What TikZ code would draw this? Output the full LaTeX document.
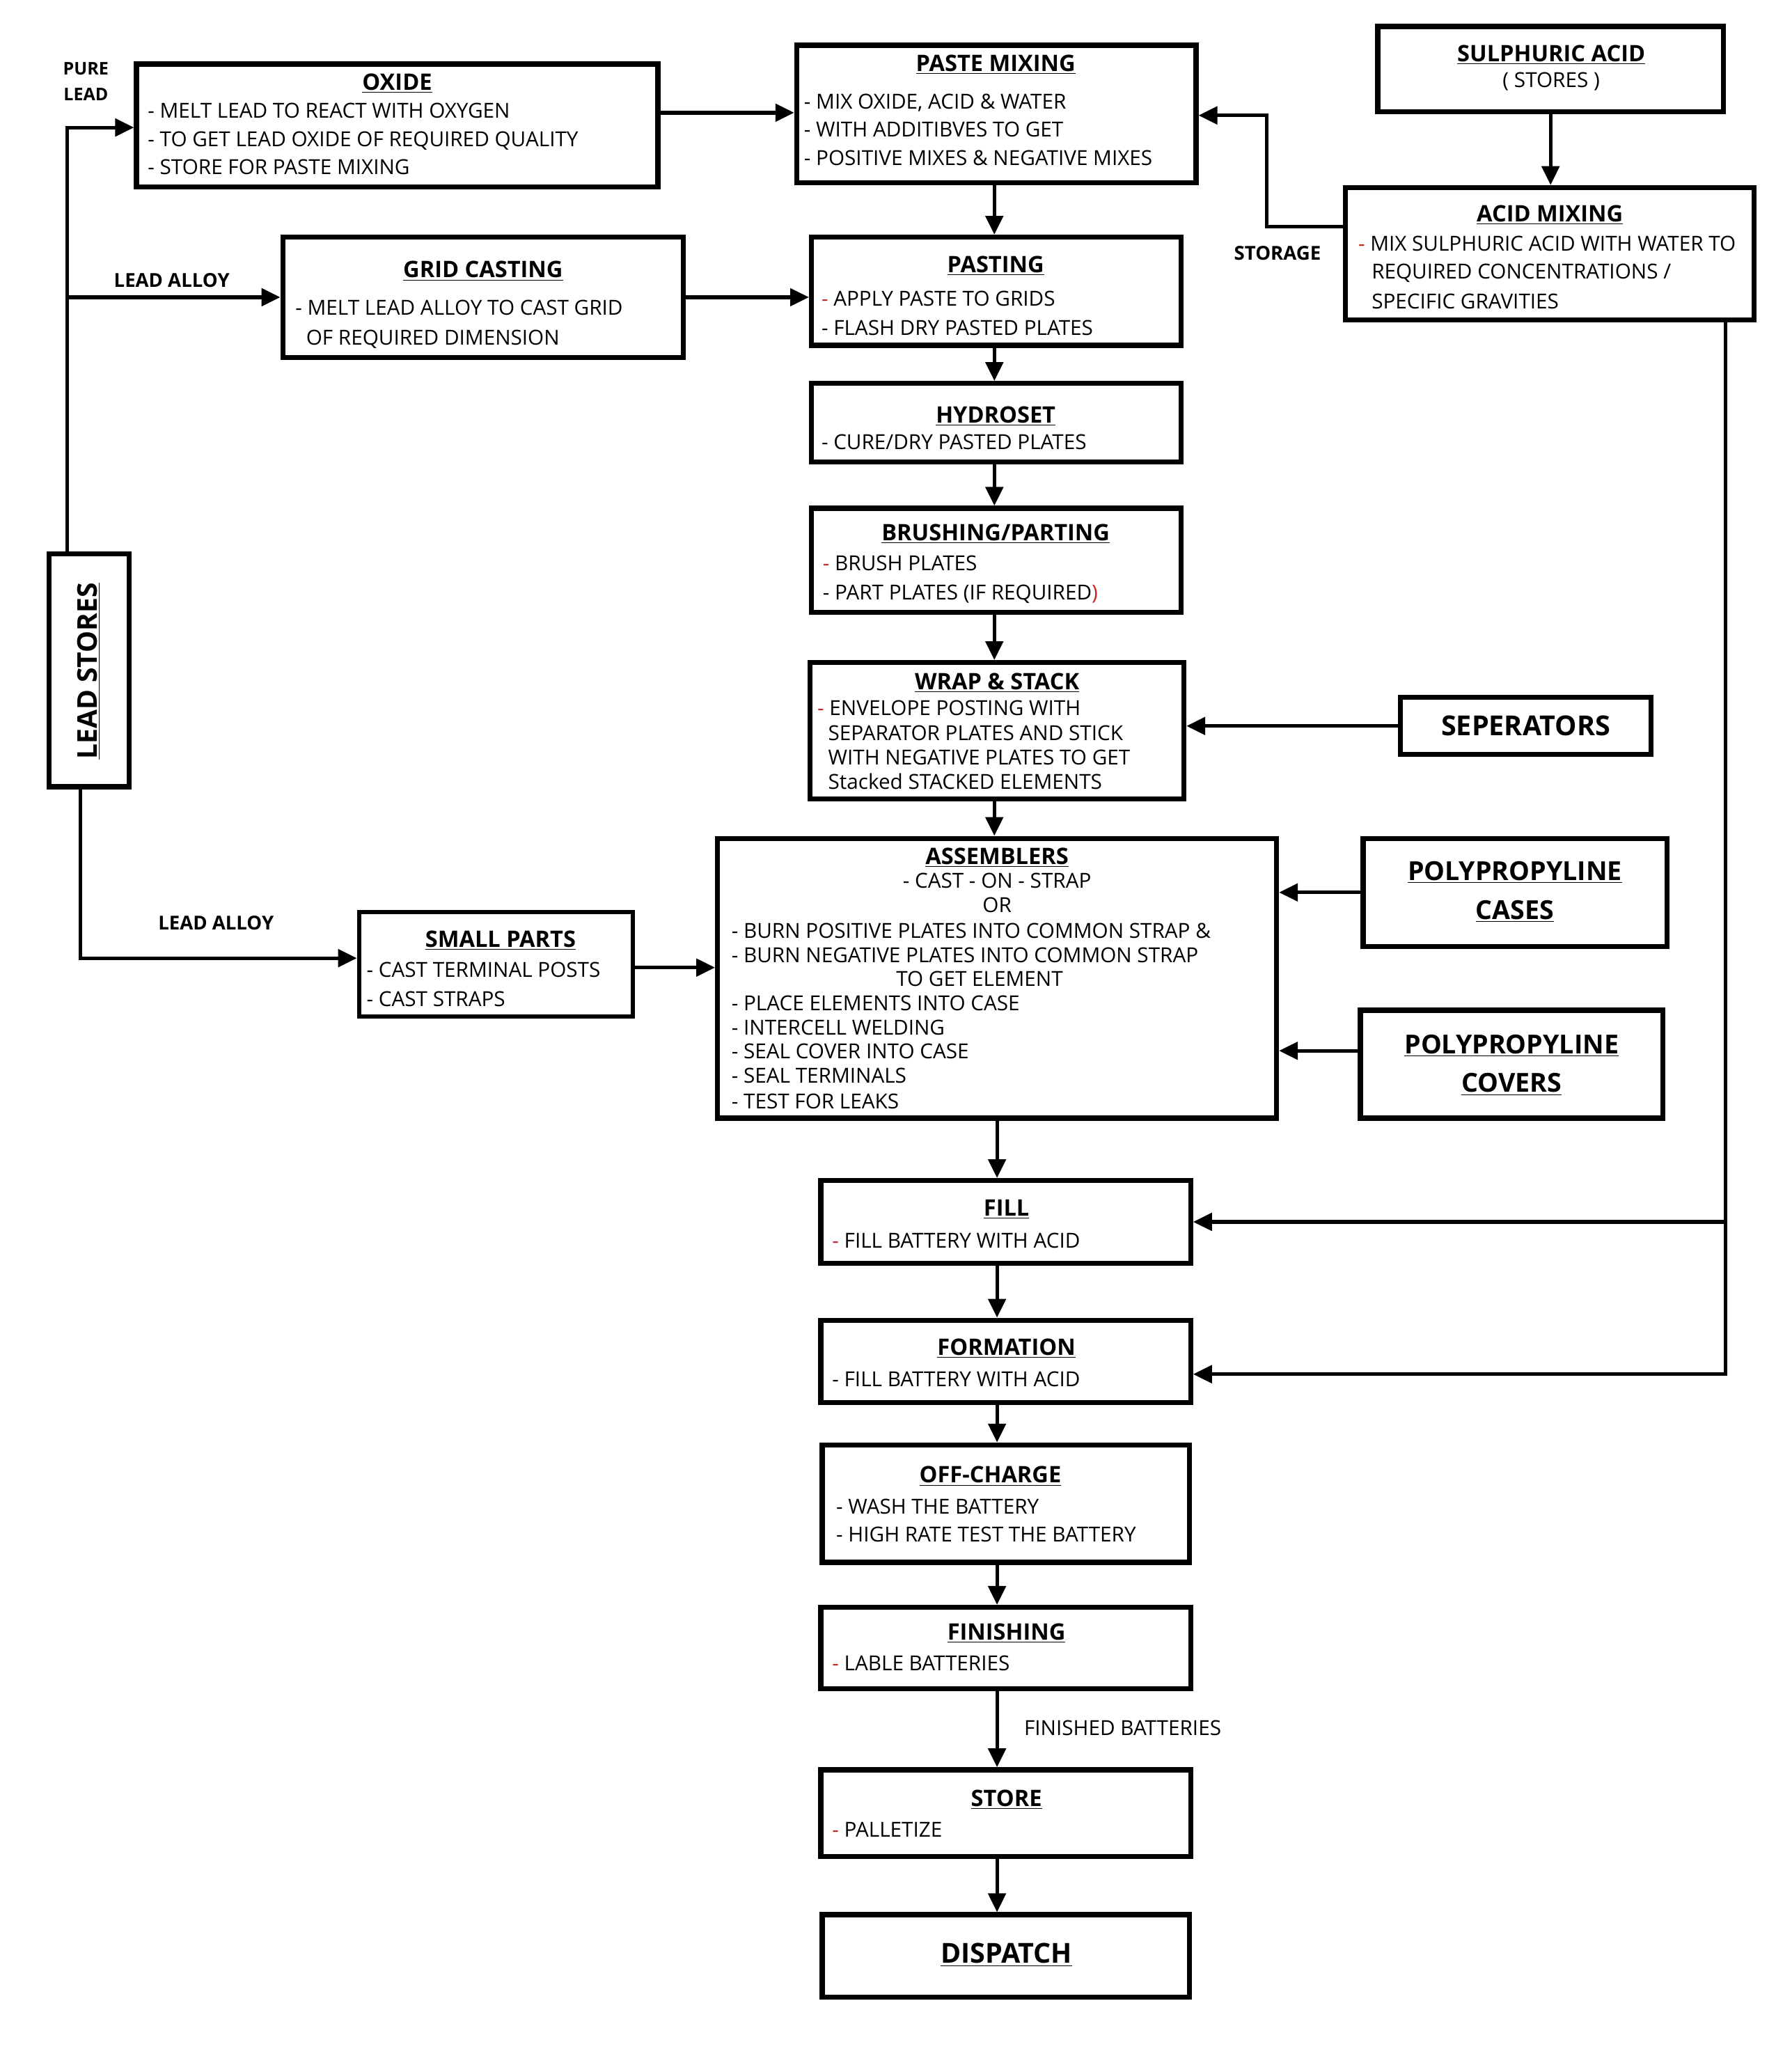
\documentclass[tikz,border=0pt]{standalone}
\usepackage{fontspec}
\setmainfont{Open Sans}
\usetikzlibrary{arrows.meta}
\definecolor{dashred}{RGB}{200,40,40}
\newcommand\rd{\textcolor{dashred}{-}}
\newcommand\bodyf{\fontsize{15.4}{18}\selectfont}
\newcommand\ttlf{\bfseries\fontsize{16.9}{19}\selectfont}
\newcommand\lblf{\bfseries\fontsize{14.3}{16}\selectfont}
\newcommand\bigf{\bfseries\fontsize{20.5}{24}\selectfont}
\begin{document}
\begin{tikzpicture}[x=1pt,y=-1pt,
  box/.style={draw, line width=3.8pt, inner sep=0pt, rectangle},
  bx/.style 2 args={box, minimum width=#1pt, minimum height=#2pt},
  body/.style={font=\bodyf, anchor=base west, inner sep=0pt},
  bodyc/.style={font=\bodyf, anchor=base, inner sep=0pt},
  ttl/.style={font=\ttlf, anchor=base, inner sep=0pt},
  lbl/.style={font=\lblf, anchor=base, inner sep=0pt},
  big/.style={font=\bigf, anchor=base, inner sep=0pt},
  pp/.style={font=\bfseries\fontsize{19.5}{22}\selectfont, anchor=base, inner sep=0pt},
  arr/.style={line width=2.7pt, -{Triangle[length=14pt,width=13pt]}},
  ln/.style={line width=2.7pt}]
\fill[white] (0,0) rectangle (1323,1544);
\useasboundingbox (0,0) rectangle (1323,1544);

% boxes
\node[bx={388.5}{91.5}] (ox) at (296,93.5) {};
\node[bx={297.5}{102.5}] (paste) at (742.5,85) {};
\node[bx={257.5}{63.5}] (sulph) at (1155.5,51.5) {};
\node[bx={304.5}{98.5}] (acid) at (1155,189) {};
\node[bx={298.5}{89.5}] (grid) at (360,221.5) {};
\node[bx={275.5}{80.5}] (pasting) at (742.5,217) {};
\node[bx={275.5}{58.5}] (hydro) at (742.5,315) {};
\node[bx={275.5}{77.5}] (brush) at (742.5,417.5) {};
\node[bx={278.5}{101.5}] (wrap) at (743,544.5) {};
\node[bx={186.5}{42.5}] (sep) at (1137,541) {};
\node[bx={416.5}{208.5}] (assem) at (743,729) {};
\node[bx={226.5}{80.5}] (cases) at (1129,665) {};
\node[bx={225.5}{80.5}] (covers) at (1126.5,793) {};
\node[bx={59.5}{173.5}] (lead) at (66.5,499.5) {};
\node[bx={204}{78}, line width=3.1pt] (small) at (369.5,718.5) {};
\node[bx={275.5}{61.5}] (fill) at (749.5,910.5) {};
\node[bx={275.5}{61.5}] (form) at (749.5,1014.5) {};
\node[bx={273.5}{87.5}] (off) at (749.5,1120.5) {};
\node[bx={275.5}{60.5}] (finish) at (749.5,1228) {};
\node[bx={275.5}{64.5}] (store) at (749.5,1351) {};
\node[bx={273.5}{61.5}] (disp) at (749.5,1457.5) {};

% texts
\node[ttl] (oxT) at (296,67) {\underline{OXIDE}};
\node[body] (ox1) at (110,88) {- MELT LEAD TO REACT WITH OXYGEN};
\node[body] (ox2) at (110,109) {- TO GET LEAD OXIDE OF REQUIRED QUALITY};
\node[body] (ox3) at (110,130) {- STORE FOR PASTE MIXING};

\node[ttl] (paT) at (742,53) {\underline{PASTE MIXING}};
\node[body] (pa1) at (599,81) {- MIX OXIDE, ACID \& WATER};
\node[body] (pa2) at (599,102) {- WITH ADDITIBVES TO GET};
\node[body] (pa3) at (599,123) {- POSITIVE MIXES \& NEGATIVE MIXES};

\node[ttl] (suT) at (1156,46) {\underline{SULPHURIC ACID}};
\node[bodyc] (su1) at (1156,65) {( STORES )};

\node[ttl] (acT) at (1155,165) {\underline{ACID MIXING}};
\node[body] (ac1) at (1012,187) {\rd{} MIX SULPHURIC ACID WITH WATER TO};
\node[body] (ac2) at (1022,208) {REQUIRED CONCENTRATIONS /};
\node[body] (ac3) at (1022,230) {SPECIFIC GRAVITIES};

\node[ttl] (grT) at (360,207) {\underline{GRID CASTING}};
\node[body] (gr1) at (220,235) {- MELT LEAD ALLOY TO CAST GRID};
\node[body] (gr2) at (228,257) {OF REQUIRED DIMENSION};

\node[ttl] (psT) at (742,203) {\underline{PASTING}};
\node[body] (ps1) at (612,228) {\rd{} APPLY PASTE TO GRIDS};
\node[body] (ps2) at (612,250) {- FLASH DRY PASTED PLATES};

\node[ttl] (hyT) at (742,315) {\underline{HYDROSET}};
\node[body] (hy1) at (612,335) {- CURE/DRY PASTED PLATES};

\node[ttl] (brT) at (742,403) {\underline{BRUSHING/PARTING}};
\node[body] (br1) at (613,425) {\rd{} BRUSH PLATES};
\node[body] (br2) at (613,447) {- PART PLATES (IF REQUIRED\textcolor{dashred}{)}};

\node[ttl] (wrT) at (743,514) {\underline{WRAP \& STACK}};
\node[body] (wr1) at (609,533) {\rd{} ENVELOPE POSTING WITH};
\node[body] (wr2) at (617,552) {SEPARATOR PLATES AND STICK};
\node[body] (wr3) at (617,570) {WITH NEGATIVE PLATES TO GET};
\node[body] (wr4) at (617,588) {Stacked STACKED ELEMENTS};

\node[big] (seT) at (1137,548) {SEPERATORS};

\node[ttl] (asT) at (743,644) {\underline{ASSEMBLERS}};
\node[bodyc] (as1) at (743,662) {- CAST - ON - STRAP};
\node[bodyc] (as2) at (743,680) {OR};
\node[body] (as3) at (545,699) {- BURN POSITIVE PLATES INTO COMMON STRAP \&};
\node[body] (as4) at (545,717) {- BURN NEGATIVE PLATES INTO COMMON STRAP};
\node[bodyc] (as5) at (730,735) {TO GET ELEMENT};
\node[body] (as6) at (545,753) {- PLACE ELEMENTS INTO CASE};
\node[body] (as7) at (545,771) {- INTERCELL WELDING};
\node[body] (as8) at (545,789) {- SEAL COVER INTO CASE};
\node[body] (as9) at (545,807) {- SEAL TERMINALS};
\node[body] (as10) at (545,826) {- TEST FOR LEAKS};

\node[pp] (caT1) at (1129,656) {\underline{POLYPROPYLINE}};
\node[pp] (caT2) at (1129,685) {\underline{CASES}};
\node[pp] (coT1) at (1126.5,785) {\underline{POLYPROPYLINE}};
\node[pp] (coT2) at (1126.5,814) {\underline{COVERS}};

\node[font=\bfseries\fontsize{20.3}{24}\selectfont, rotate=90, inner sep=0pt] (leT) at (66,500) {\underline{LEAD STORES}};

\node[ttl] (smT) at (373,706) {\underline{SMALL PARTS}};
\node[body] (sm1) at (273,728) {- CAST TERMINAL POSTS};
\node[body] (sm2) at (273,750) {- CAST STRAPS};

\node[ttl] (fiT) at (750,906) {\underline{FILL}};
\node[body] (fi1) at (620,930) {\rd{} FILL BATTERY WITH ACID};

\node[ttl] (foT) at (750,1010) {\underline{FORMATION}};
\node[body] (fo1) at (620,1033) {- FILL BATTERY WITH ACID};

\node[ttl] (ofT) at (738,1105) {\underline{OFF-CHARGE}};
\node[body] (of1) at (623,1128) {- WASH THE BATTERY};
\node[body] (of2) at (623,1149) {- HIGH RATE TEST THE BATTERY};

\node[ttl] (fnT) at (750,1222) {\underline{FINISHING}};
\node[body] (fn1) at (620,1245) {\rd{} LABLE BATTERIES};

\node[ttl] (stT) at (750,1346) {\underline{STORE}};
\node[body] (st1) at (620,1369) {\rd{} PALLETIZE};

\node[font=\bfseries\fontsize{20.5}{24}\selectfont, anchor=base, inner sep=0pt] (diT) at (750,1463) {\underline{DISPATCH}};

% labels
\node[lbl, font=\bfseries\fontsize{13}{15}\selectfont] (pl1) at (64,56) {PURE};
\node[lbl, font=\bfseries\fontsize{13}{15}\selectfont] (pl2) at (64,75) {LEAD};
\node[lbl] (la1) at (128,214) {LEAD ALLOY};
\node[lbl] (la2) at (161,693) {LEAD ALLOY};
\node[lbl] (sto) at (952,194) {STORAGE};
\node[body] (fb) at (763,1293) {FINISHED BATTERIES};

% helper coordinates
\coordinate (lxa) at (50,0);
\coordinate (lxb) at (60,0);
\coordinate (cu) at (741,0);
\coordinate (cl) at (743,0);
\coordinate (rx) at (1286,0);
\coordinate (stc) at (944,86);

% connectors
\draw[arr] (lead.north -| lxa) |- ([yshift=-1.5pt]ox.west);
\draw[arr] (lxa |- grid.west) -- (grid.west);
\draw[arr] (lead.south -| lxb) |- ([yshift=4.5pt]small.west);
\draw[arr] ([yshift=9.5pt]ox.east) -- ([yshift=9.5pt]ox.east -| paste.west);
\draw[arr] (grid.east) -- (grid.east -| pasting.west);
\draw[arr] ([yshift=-2.5pt]small.east) -- ([yshift=-2.5pt]small.east -| assem.west);

\draw[arr] (paste.south -| cu) -- (pasting.north -| cu);
\draw[arr] (pasting.south -| cu) -- (hydro.north -| cu);
\draw[arr] (hydro.south -| cu) -- (brush.north -| cu);
\draw[arr] (brush.south -| cu) -- (wrap.north -| cu);
\draw[arr] (wrap.south -| cu) -- (assem.north -| cu);
\draw[arr] (assem.south -| cl) -- (fill.north -| cl);
\draw[arr] (fill.south -| cl) -- (form.north -| cl);
\draw[arr] (form.south -| cl) -- (off.north -| cl);
\draw[arr] (off.south -| cl) -- (finish.north -| cl);
\draw[arr] (finish.south -| cl) -- (store.north -| cl);
\draw[arr] (store.south -| cl) -- (disp.north -| cl);

\draw[arr] (sulph.south) -- (sulph.south |- acid.north);
\draw[arr] ([yshift=20pt]acid.west) -| (stc) -- (stc -| paste.east);
\draw[arr] (acid.south -| rx) |- ([yshift=-9.5pt]form.east);
\draw[arr] (rx |- fill.east) -- (fill.east);

\draw[arr] (sep.west) -- (sep.west -| wrap.east);
\draw[arr] (cases.west) -- (cases.west -| assem.east);
\draw[arr] ([yshift=10pt]covers.west) -- ([yshift=10pt]covers.west -| assem.east);
\end{tikzpicture}
\end{document}
